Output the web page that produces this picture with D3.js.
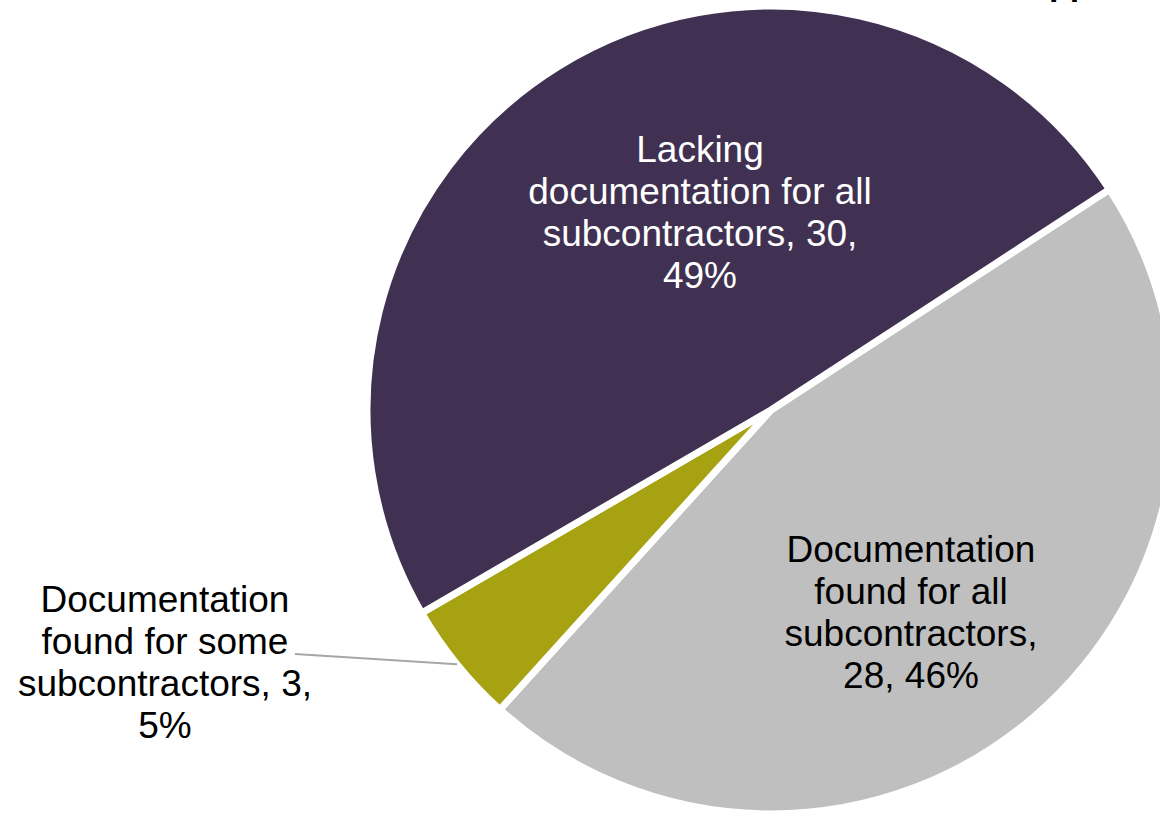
<!DOCTYPE html>
<html>
<head>
<meta charset="utf-8">
<script src="https://cdn.jsdelivr.net/npm/d3@7"></script>
<style>
  body { margin: 0; background: #fff; }
  text { font-family: "Liberation Sans", Arial, sans-serif; }
</style>
</head>
<body>
<div id="chart"></div>
<script>
// chart data
var categories = [
  "Documentation found for all subcontractors",
  "Documentation found for some subcontractors",
  "Lacking documentation for all subcontractors"
];
var counts = [28, 3, 30];
var percents = ["46%", "5%", "49%"];
var labelLines = [
  ["Documentation", "found for all", "subcontractors,", "28, 46%"],
  ["Documentation", "found for some", "subcontractors, 3,", "5%"],
  ["Lacking", "documentation for all", "subcontractors, 30,", "49%"]
];
var colors = ["#bfbfbf", "#a6a212", "#403152"];
var textColors = ["#000", "#000", "#fff"];

// layout
var svgWidth = 1160;
var svgHeight = 815;
var cx = 771, cy = 410, radius = 404;
var startDeg = 56.9;
var fontSize = 37, lineGap = 42;
// first baseline of each label, relative to the pie center
var labelPos = [
  {x: 140, y: 152},
  {x: -606, y: 202},
  {x: -71, y: -248}
];

var svg = d3.select("#chart")
  .append("svg")
  .attr("width", svgWidth)
  .attr("height", svgHeight);

// cut-off title, only descenders show at the top edge
svg.append("text")
  .attr("x", 1049)
  .attr("y", -5)
  .attr("font-size", 34)
  .attr("font-weight", "bold")
  .attr("fill", "#000")
  .text("pp");

var g = svg.append("g")
  .attr("transform", `translate(${cx}, ${cy})`);

var start = startDeg * Math.PI / 180;
var pie = d3.pie()
  .sort(null)
  .startAngle(start)
  .endAngle(start + 2 * Math.PI);

var arcs = pie(counts);

var arc = d3.arc()
  .innerRadius(0)
  .outerRadius(radius);

g.selectAll(".slice")
  .data(arcs)
  .enter()
  .append("path")
  .attr("class", "slice")
  .attr("d", arc)
  .attr("fill", (d, i) => colors[i])
  .attr("stroke", "#fff")
  .attr("stroke-width", 7)
  .attr("stroke-linejoin", "round");

// leader line for the small slice
var edgeArc = d3.arc().innerRadius(radius).outerRadius(radius);
var edge = edgeArc.centroid(arcs[1]);
g.append("line")
  .attr("x1", labelPos[1].x + 130)
  .attr("y1", labelPos[1].y + 42)
  .attr("x2", edge[0])
  .attr("y2", edge[1])
  .attr("stroke", "#a6a6a6")
  .attr("stroke-width", 2);

// labels
labelLines.forEach(function(lines, i) {
  var t = g.append("text")
    .attr("text-anchor", "middle")
    .attr("font-size", fontSize)
    .attr("fill", textColors[i]);
  lines.forEach(function(line, j) {
    t.append("tspan")
      .attr("x", labelPos[i].x)
      .attr("y", labelPos[i].y + j * lineGap)
      .text(line);
  });
});
</script>
</body>
</html>
